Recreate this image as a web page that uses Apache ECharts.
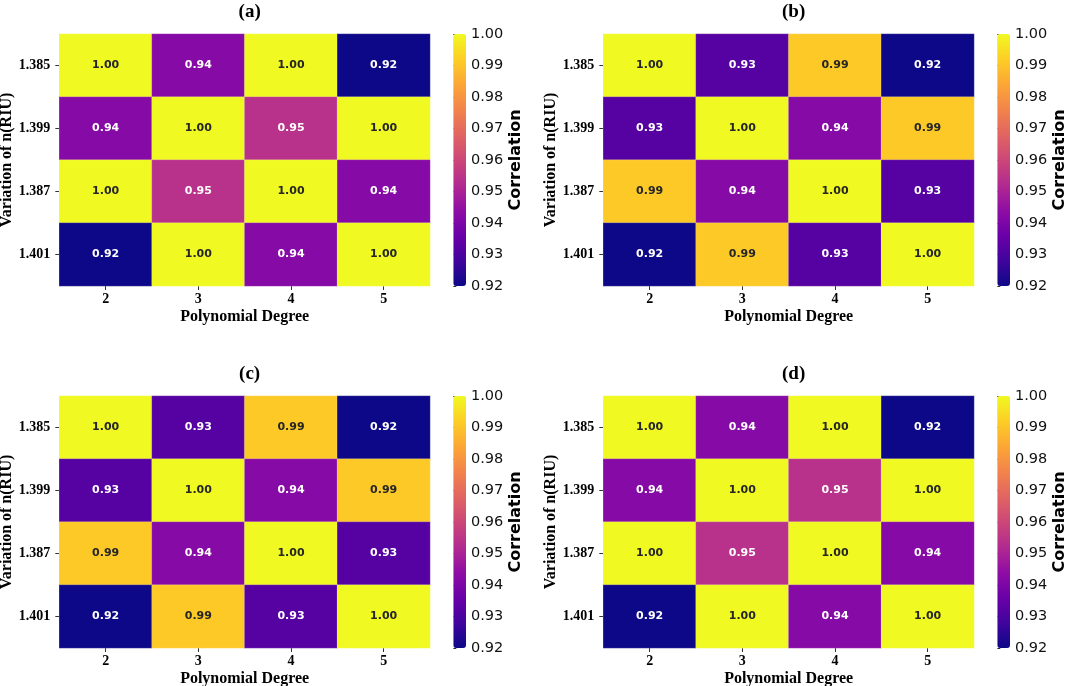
<!DOCTYPE html>
<html>
<head>
<meta charset="utf-8">
<script src="https://cdn.jsdelivr.net/npm/echarts@6/dist/echarts.min.js"></script>
<style>
html,body{margin:0;padding:0;background:#fff;}
#chart{width:1065px;height:686px;}
</style>
</head>
<body>
<div id="chart"></div>
<script>
// ---- data ----
const xCategories = ['2', '3', '4', '5'];            // Polynomial Degree
const yCategories = ['1.385', '1.399', '1.387', '1.401']; // Variation of n(RIU), top to bottom
const panelTitles = ['(a)', '(b)', '(c)', '(d)'];
// rows top-to-bottom, columns degree 2..5
const corrA = [
  [1.00, 0.942, 1.00, 0.92],
  [0.942, 1.00, 0.954, 1.00],
  [1.00, 0.954, 1.00, 0.942],
  [0.92, 1.00, 0.942, 1.00]
];
const corrB = [
  [1.00, 0.932, 0.991, 0.92],
  [0.932, 1.00, 0.942, 0.991],
  [0.991, 0.942, 1.00, 0.932],
  [0.92, 0.991, 0.932, 1.00]
];
const corrC = [
  [1.00, 0.932, 0.991, 0.92],
  [0.932, 1.00, 0.942, 0.991],
  [0.991, 0.942, 1.00, 0.932],
  [0.92, 0.991, 0.932, 1.00]
];
const corrD = [
  [1.00, 0.942, 1.00, 0.92],
  [0.942, 1.00, 0.954, 1.00],
  [1.00, 0.954, 1.00, 0.942],
  [0.92, 1.00, 0.942, 1.00]
];
const colorMin = 0.92;
const colorMax = 1.00;
const colorStep = 0.01;
const plasma = ['#0d0887','#41049d','#6a00a8','#8f0da4','#b12a90','#cc4778','#e16462','#f2844b','#fca636','#fcce25','#f0f921'];

// ---- layout ----
const panels = [
  {left: 59.3, top: 34},
  {left: 603.3, top: 34},
  {left: 59.3, top: 396},
  {left: 603.3, top: 396}
];
const W = 370.7, H = 252;
const cbOffset = 394, cbW = 12.7;
const serif = '"Liberation Serif","Times New Roman",serif';
const sans = '"DejaVu Sans",sans-serif';
const matrices = [corrA, corrB, corrC, corrD];

const grid = [], xAxis = [], yAxis = [], series = [], visualMap = [], title = [];

panels.forEach((p, i) => {
  grid.push({left: p.left, top: p.top, width: W, height: H, containLabel: false, outerBoundsMode: 'none'});
  xAxis.push({
    type: 'category', gridIndex: i, data: xCategories, position: 'bottom',
    axisLine: {show: false},
    axisTick: {show: true, alignWithLabel: true, length: 4, lineStyle: {color: '#333', width: 1}},
    axisLabel: {fontFamily: serif, fontWeight: 'bold', fontSize: 14, color: '#000', margin: 6},
    splitLine: {show: false},
    name: 'Polynomial Degree', nameLocation: 'middle', nameGap: 23,
    nameTextStyle: {fontFamily: serif, fontWeight: 'bold', fontSize: 16, color: '#000'}
  });
  yAxis.push({
    type: 'category', gridIndex: i, data: yCategories, inverse: true,
    axisLine: {show: false},
    axisTick: {show: true, alignWithLabel: true, length: 4, lineStyle: {color: '#333', width: 1}},
    axisLabel: {fontFamily: serif, fontWeight: 'bold', fontSize: 14, color: '#000', margin: 9},
    splitLine: {show: false},
    name: 'Variation of n(RIU)', nameLocation: 'middle', nameGap: 43, nameRotate: 90,
    nameTextStyle: {fontFamily: serif, fontWeight: 'bold', fontSize: 16, color: '#000'}
  });
  const data = [];
  matrices[i].forEach((row, r) => {
    row.forEach((v, c) => {
      data.push({
        value: [c, r, v],
        label: {color: v > 0.97 ? '#262626' : '#ffffff'}
      });
    });
  });
  series.push({
    type: 'heatmap', xAxisIndex: i, yAxisIndex: i, data: data,
    itemStyle: {borderWidth: 0.5, borderColor: 'rgba(255,255,255,0.35)'},
    label: {
      show: true, fontFamily: sans, fontWeight: 'bold', fontSize: 11,
      formatter: (prm) => prm.value[2].toFixed(2)
    },
    emphasis: {disabled: true}
  });
  visualMap.push({
    type: 'continuous', seriesIndex: i, min: colorMin, max: colorMax,
    inRange: {color: plasma}, calculable: false, realtime: false,
    left: p.left + cbOffset, top: p.top, itemWidth: cbW, itemHeight: H,
    padding: 0, text: null, showLabel: false, hoverLink: false,
    indicatorSize: 0, indicatorIcon: 'none', indicatorStyle: {opacity: 0}, orient: 'vertical'
  });
  title.push({
    text: panelTitles[i], left: p.left + W / 2, top: p.top - 36, textAlign: 'center',
    textStyle: {fontFamily: serif, fontWeight: 'bold', fontSize: 19, color: '#000'}
  });
});

// colorbar tick axes
panels.forEach((p, i) => {
  const gi = grid.length;
  grid.push({left: p.left + cbOffset, top: p.top, width: cbW, height: H, containLabel: false, outerBoundsMode: 'none'});
  xAxis.push({type: 'value', gridIndex: gi, min: 0, max: 1, show: false});
  yAxis.push({
    type: 'value', gridIndex: gi, position: 'right', min: colorMin, max: colorMax, interval: colorStep,
    axisLine: {show: false},
    axisTick: {show: true, length: 3, lineStyle: {color: '#333', width: 1}},
    splitLine: {show: false},
    axisLabel: {fontFamily: sans, fontSize: 14.5, color: '#111', margin: 5, formatter: (v) => v.toFixed(2)},
    name: 'Correlation', nameLocation: 'middle', nameRotate: 90, nameGap: 42,
    nameTextStyle: {fontFamily: sans, fontWeight: 'bold', fontSize: 16, color: '#000'}
  });
});

const chart = echarts.init(document.getElementById('chart'), null, {renderer: 'canvas'});
chart.setOption({
  animation: false,
  backgroundColor: '#ffffff',
  title: title,
  grid: grid,
  xAxis: xAxis,
  yAxis: yAxis,
  visualMap: visualMap,
  series: series
});
</script>
</body>
</html>
